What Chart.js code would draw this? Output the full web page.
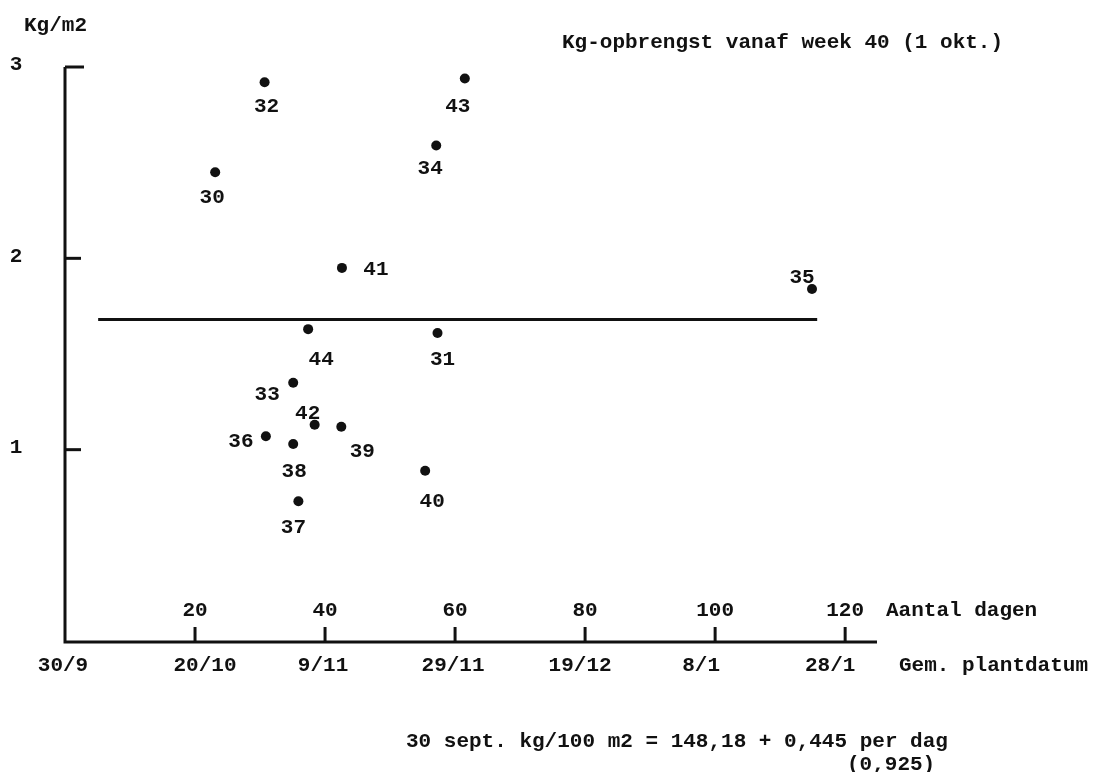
<!DOCTYPE html>
<html>
<head>
<meta charset="utf-8">
<script src="https://cdn.jsdelivr.net/npm/chart.js@4.4.1/dist/chart.umd.min.js"></script>
<style>
    html, body { margin: 0; padding: 0; background: #ffffff; }
    #wrap { width: 1107px; height: 772px; position: relative; }
</style>
</head>
<body>
<div id="wrap"><canvas id="yieldChart"></canvas></div>
<script>
// Data
const plotNumbers = ['30', '32', '43', '34', '41', '35', '44', '31', '33', '42', '39', '36', '38', '40', '37'];
const plantDays = [23.1, 30.7, 61.5, 57.1, 42.6, 114.9, 37.4, 57.3, 35.1, 38.4, 42.5, 30.9, 35.1, 55.4, 35.9];
const yieldKg = [2.45, 2.92, 2.94, 2.59, 1.95, 1.84, 1.63, 1.61, 1.35, 1.13, 1.12, 1.07, 1.03, 0.89, 0.73];

const meanDays = [5.1, 115.7];
const meanKg = [1.68, 1.68];

const dayTicks = [20, 40, 60, 80, 100, 120];
const dateTickDays = [0, 20, 40, 60, 80, 100, 120];
const dateTicks = ['30/9', '20/10', '9/11', '29/11', '19/12', '8/1', '28/1'];
const yTicks = [1, 2, 3];

// Label placement (pixels, relative to each dot) - typewritten by hand in the original
const labelOffsets = [
    [-3, 25], [2, 24], [-7, 28], [-6, 23], [34, 2], [-10, -11], [13, 31], [5, 27],
    [-26, 12], [-7, -11], [21, 25], [-25, 5], [1, 28], [7, 31], [-5, 26]
];
const dateOffsets = [-2, 10, -2, -2, -5, -14, -15];

const FONT = 'bold 21px "Liberation Mono", "DejaVu Sans Mono", monospace';
const INK = '#111111';

const typewriterPlugin = {
    id: 'typewriter',
    beforeDraw(chart) {
        const ctx = chart.ctx;
        ctx.save();
        ctx.fillStyle = '#ffffff';
        ctx.fillRect(0, 0, chart.width, chart.height);
        ctx.restore();
    },
    afterDraw(chart) {
        const ctx = chart.ctx;
        const xs = chart.scales.x;
        const ys = chart.scales.y;
        const area = chart.chartArea;
        const x0 = xs.getPixelForValue(0);
        const yTop = ys.getPixelForValue(3);
        const yBase = ys.getPixelForValue(0) + 1;

        ctx.save();
        ctx.strokeStyle = INK;
        ctx.lineWidth = 3;
        ctx.lineCap = 'butt';

        // axes
        ctx.beginPath();
        ctx.moveTo(x0, yTop);
        ctx.lineTo(x0, yBase);
        ctx.lineTo(area.right, yBase);
        ctx.stroke();

        // y ticks point inward
        yTicks.forEach(v => {
            const py = ys.getPixelForValue(v);
            ctx.beginPath();
            ctx.moveTo(x0, py);
            ctx.lineTo(x0 + (v === 3 ? 19 : 16), py);
            ctx.stroke();
        });

        // x ticks point upward
        dayTicks.forEach(d => {
            const px = xs.getPixelForValue(d);
            ctx.beginPath();
            ctx.moveTo(px, yBase);
            ctx.lineTo(px, yBase - 15);
            ctx.stroke();
        });

        ctx.fillStyle = INK;
        ctx.font = FONT;
        ctx.textBaseline = 'middle';
        ctx.textAlign = 'center';

        yTicks.forEach(v => {
            ctx.fillText(String(v), 16, ys.getPixelForValue(v) - 2);
        });

        dayTicks.forEach(d => {
            ctx.fillText(String(d), xs.getPixelForValue(d), yBase - 31);
        });

        dateTicks.forEach((lbl, i) => {
            ctx.fillText(lbl, xs.getPixelForValue(dateTickDays[i]) + dateOffsets[i], yBase + 24);
        });

        // plot numbers next to the dots
        const meta = chart.getDatasetMeta(0);
        meta.data.forEach((pt, i) => {
            ctx.fillText(plotNumbers[i], pt.x + labelOffsets[i][0], pt.y + labelOffsets[i][1]);
        });

        ctx.textAlign = 'left';
        ctx.fillText('Kg/m2', 24, 26);
        ctx.fillText('Kg-opbrengst vanaf week 40 (1 okt.)', 562, 43);
        ctx.fillText('Aantal dagen', 886, yBase - 31);
        ctx.fillText('Gem. plantdatum', 899, yBase + 24);
        ctx.fillText('30 sept. kg/100 m2 = 148,18 + 0,445 per dag', 406, 742);
        ctx.fillText('(0,925)', 847, 765);
        ctx.restore();
    }
};

const ctx = document.getElementById('yieldChart');
new Chart(ctx, {
    type: 'scatter',
    data: {
        datasets: [{
            label: 'Kg-opbrengst',
            data: plantDays.map((d, i) => ({ x: d, y: yieldKg[i] })),
            backgroundColor: INK,
            borderColor: INK,
            pointRadius: 5,
            pointHoverRadius: 5,
            borderWidth: 0
        }, {
            label: 'Gemiddelde',
            data: meanDays.map((d, i) => ({ x: d, y: meanKg[i] })),
            showLine: true,
            borderColor: INK,
            borderWidth: 3,
            pointRadius: 0,
            fill: false
        }]
    },
    options: {
        responsive: true,
        maintainAspectRatio: false,
        animation: false,
        layout: {
            padding: { left: 65, right: 230, top: 67, bottom: 131 }
        },
        scales: {
            x: { type: 'linear', display: false, min: 0, max: 124.9 },
            y: { type: 'linear', display: false, min: 0, max: 3 }
        },
        plugins: {
            legend: { display: false },
            tooltip: { enabled: false }
        }
    },
    plugins: [typewriterPlugin]
});
</script>
</body>
</html>
